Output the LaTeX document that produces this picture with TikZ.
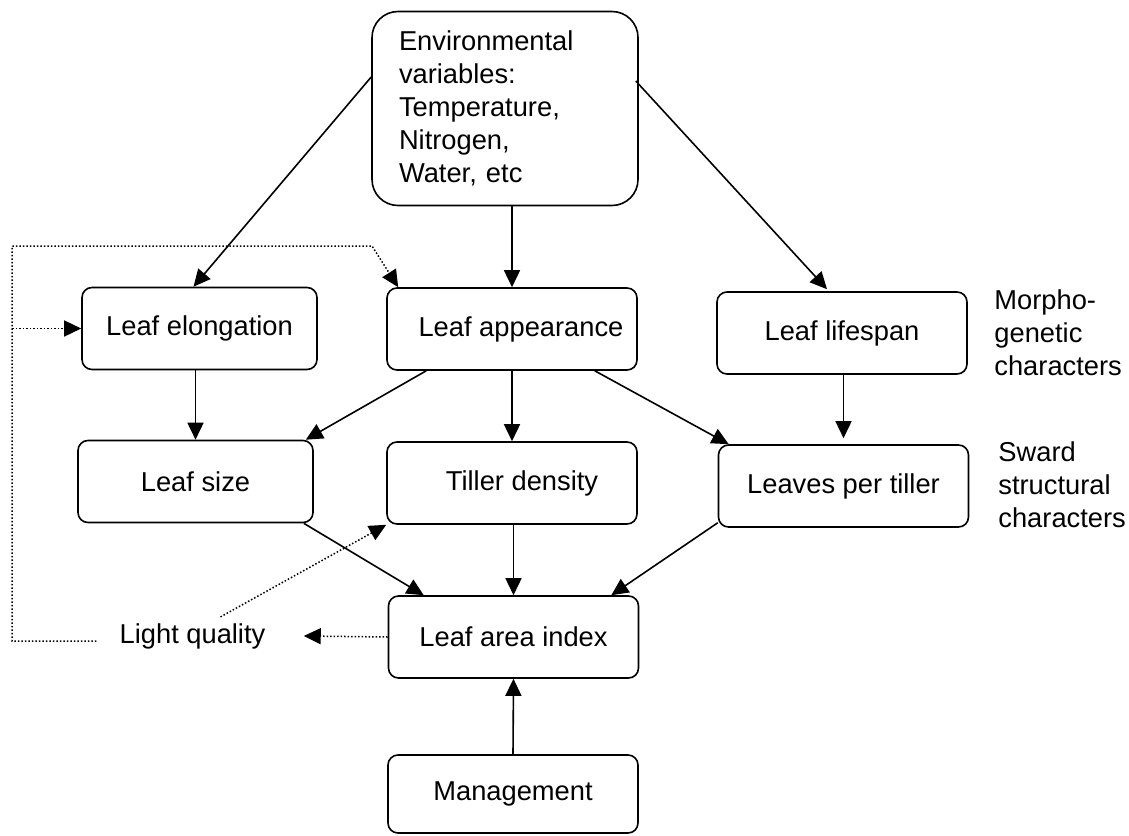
\documentclass[tikz,border=0pt]{standalone}
\usepackage{fontspec}
\setmainfont{Liberation Sans}
\usepackage{tikz}
\usetikzlibrary{arrows.meta, positioning, calc}

\begin{document}
\begin{tikzpicture}[
    x=0.5pt, y=-0.5pt,
    every node/.style={font=\fontsize{13.65}{16.5}\selectfont},
    box/.style={draw, line width=0.8pt, rounded corners=5pt, minimum width=125pt, minimum height=41pt, inner sep=0pt},
    envbox/.style={draw, line width=0.8pt, rounded corners=13pt, minimum width=133pt, minimum height=97pt, text width=106pt, inner xsep=13.5pt, align=left},
    note/.style={inner sep=0pt, align=left, anchor=north west},
    link/.style={-{Triangle[length=8.5pt, width=8pt]}, line width=0.8pt},
    fb/.style={-{Triangle[length=8.5pt, width=8pt]}, line width=0.75pt, densely dotted}
]
    \useasboundingbox (0,0) rectangle (1129,835);

    % Top level
    \node[envbox] (env) at (505,108.5) {Environmental\\variables:\\Temperature,\\Nitrogen,\\Water, etc};

    % Morphogenetic characters
    \node[box, minimum width=117.5pt] (elong) at (199.5,328.5) {Leaf elongation};
    \node[box] (appear) at (512,329) {\hspace{9pt}Leaf appearance};
    \node[box] (lifespan) at (842,333) {Leaf lifespan};

    % Sward structural characters
    \node[box, minimum width=117.5pt] (size) at (195.5,481.5) {Leaf size};
    \node[box] (tiller) at (512,483) {\hspace{10pt}Tiller density};
    \node[box] (leaves) at (843.5,486) {Leaves per tiller\hspace{10pt}};

    % Bottom
    \node[box] (lai) at (513.5,637) {Leaf area index};
    \node[box, minimum height=39pt] (mgmt) at (513,794) {Management};
    \node[inner sep=0pt] (light) at (192.5,636) {Light quality};

    % Side labels
    \node[note] (morpho) at (994,289) {Morpho-\\genetic\\characters};
    \node[note] (sward) at (998,441) {Sward\\structural\\characters};

    % Feedback loop corners
    \coordinate (loopBL) at (12,641);
    \coordinate (loopTL) at (12,246);
    \coordinate (loopTR) at (372,246);

    % Environment links
    \draw[link] ([yshift=15.75pt]env.west) -- ([xshift=-3pt]elong.north);
    \draw[link] (appear.north |- env.south) -- (appear.north);
    \draw[link] ([xshift=-1.5pt, yshift=13.75pt]env.east) -- ([xshift=-7.5pt, yshift=1pt]lifespan.north);

    % Second level links
    \draw[link] (size.north |- elong.south) -- (size.north);
    \draw[link] ([xshift=20pt]appear.south west) -- ([xshift=-4pt]size.north east);
    \draw[link] (appear.south) -- (tiller.north);
    \draw[link] ([xshift=-21.5pt]appear.south east) -- ([xshift=5.5pt]leaves.north west);
    \draw[link] (leaves.north |- lifespan.south) -- ([yshift=3pt]leaves.north);

    % Third level links
    \draw[link] ([xshift=-5pt]size.south east) -- ([xshift=18pt]lai.north west);
    \draw[link] (lai.north |- tiller.south) -- (lai.north);
    \draw[link] ([yshift=2.5pt]leaves.south west) -- ([xshift=-14pt]lai.north east);
    \draw[link] (mgmt.north) -- (lai.south);

    % Light quality feedback
    \draw[fb] (lai.west) -- ([xshift=19pt]light.east);
    \draw[fb] ([xshift=14pt, yshift=3pt]light.north) -- (tiller.south west);
    \draw[fb] ([xshift=-11.5pt]light.west |- loopBL) -- (loopBL) -- (loopTL) -- (loopTR) -- ([xshift=6pt]appear.north west);
    \draw[fb] (loopTL |- elong.west) -- (elong.west);
\end{tikzpicture}
\end{document}
